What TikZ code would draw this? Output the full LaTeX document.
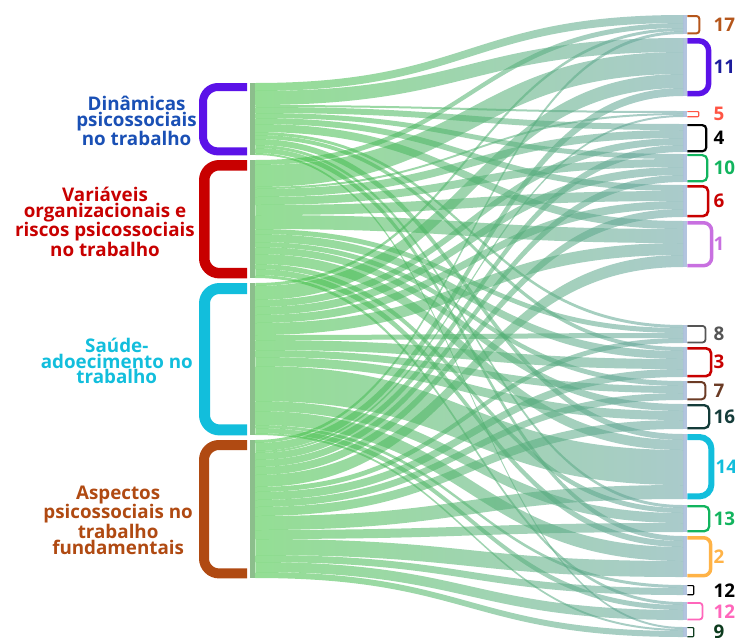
\documentclass[tikz,border=0pt]{standalone}
\usepackage{fontspec}
\setmainfont{Open Sans}
\usetikzlibrary{calc}
\definecolor{bandL}{RGB}{60,195,60}
\definecolor{bandR}{RGB}{100,160,160}
\definecolor{lbarc}{RGB}{140,190,140}
\definecolor{rbarc}{RGB}{178,196,222}
\definecolor{cPur}{HTML}{5B12E8}
\definecolor{cNavy}{HTML}{1C1C9C}
\definecolor{cBlueT}{HTML}{1A50B5}
\definecolor{cRed}{HTML}{C80000}
\definecolor{cCyan}{HTML}{12BEDC}
\definecolor{cBrown}{HTML}{B04A12}
\definecolor{cOrg}{HTML}{B5561B}
\definecolor{cSalmon}{HTML}{FF5544}
\definecolor{cGreen}{HTML}{12B45E}
\definecolor{cViolet}{HTML}{C870E0}
\definecolor{cGray}{HTML}{555555}
\definecolor{cDBrown}{HTML}{6B3B25}
\definecolor{cDTeal}{HTML}{143C3A}
\definecolor{cYel}{HTML}{FFB347}
\definecolor{cPink}{HTML}{FF66BB}
\definecolor{cDGreen}{HTML}{0D3B1E}

\newcommand\sflow[3]{%
  \edef\fa{\csname lo#1\endcsname}%
  \edef\fb{\csname ro#2\endcsname}%
  \pgfmathsetmacro\faa{\fa+#3}%
  \pgfmathsetmacro\fbb{\fb+#3}%
  \expandafter\xdef\csname lo#1\endcsname{\faa}%
  \expandafter\xdef\csname ro#2\endcsname{\fbb}%
  \path ([yshift=-\fa pt]L#1.north east) coordinate (a0)
        ([yshift=-\faa pt]L#1.north east) coordinate (a1)
        ([yshift=-\fb pt]R#2.north west) coordinate (b0)
        ([yshift=-\fbb pt]R#2.north west) coordinate (b1);
  \path[band] (a0) .. controls (mid |- a0) and (mid |- b0) .. (b0) -- (b1)
     .. controls (mid |- b1) and (mid |- a1) .. (a1) -- cycle;
}
% name, top, height, bracket colour, line width, outer x, radius, label, label colour
\newcommand\rightnode[9]{%
  \node[rbar, minimum height=#3pt] (R#1) at (683,#2) {};
  \expandafter\gdef\csname ro#1\endcsname{0}%
  \pgfmathsetmacro\myhw{#5/2}\pgfmathsetmacro\mydx{#6-687-#5/2}%
  \draw[#4, line width=#5pt, rounded corners=#7pt] ([yshift=-\myhw pt]R#1.north east) -- ++(\mydx,0) |- ([yshift=\myhw pt]R#1.south east);
  \node[lab, text=#9] (T#1) at ([xshift=\labx pt]R#1.east) {#8};
}
\newcommand\labx{26}
% name, top, height, colour, line width
\newcommand\leftnode[5]{%
  \node[lbar, minimum height=#3pt] (L#1) at (250,#2) {};
  \expandafter\gdef\csname lo#1\endcsname{0}%
  \pgfmathsetmacro\myhw{#5/2}\pgfmathsetmacro\mydx{48-#5/2}%
  \draw[#4, line width=#5pt, rounded corners=15pt] ([xshift=-3pt,yshift=-\myhw pt]L#1.north west) -- ++(-\mydx,0) |- ([xshift=-3pt,yshift=\myhw pt]L#1.south west);
}

\begin{document}
\begin{tikzpicture}[x=1pt,y=-1pt,
  font=\bfseries\fontsize{18.8}{15.6}\selectfont,
  band/.style={left color=bandL, right color=bandR, fill opacity=0.55},
  lbar/.style={rectangle, inner sep=0pt, minimum width=5pt, fill=lbarc, anchor=north west},
  rbar/.style={rectangle, inner sep=0pt, minimum width=4pt, fill=rbarc, anchor=north west},
  lab/.style={anchor=west, inner sep=0pt},
  llab/.style={anchor=east, align=center, inner sep=0pt}]
\useasboundingbox (0,0) rectangle (735,637);
\coordinate (mid) at (469,0);

\leftnode{D}{83}{72}{cPur}{8}
\leftnode{V}{160}{118}{cRed}{10.5}
\leftnode{S}{283}{152}{cCyan}{11}
\leftnode{A}{440}{138}{cBrown}{10}

\rightnode{17}{15}{19}{cOrg}{2}{700}{3}{17}{cOrg}
\rightnode{11}{38}{58}{cPur}{5.5}{711}{10}{11}{cNavy}
\rightnode{5}{111}{6}{cSalmon}{1.2}{699}{1}{5}{cSalmon}
\rightnode{4}{124}{28}{black}{2.2}{707}{4}{4}{black}
\rightnode{10}{154}{28}{cGreen}{2.2}{708}{5}{10}{cGreen}
\rightnode{6}{185}{32}{cRed}{2.6}{709}{5}{6}{cRed}
\rightnode{1}{221}{46}{cViolet}{3.5}{713}{8}{1}{cViolet}
\rightnode{8}{325}{18}{cGray}{1.8}{706}{3}{8}{cGray}
\rightnode{3}{347}{30}{cRed}{2.6}{712}{5}{3}{cRed}
\rightnode{7}{381}{19}{cDBrown}{2}{706}{4}{7}{cDBrown}
\rightnode{16}{404}{25}{cDTeal}{2.3}{710}{5}{16}{cDTeal}
\renewcommand\labx{28}
\rightnode{14}{434}{65}{cCyan}{6}{714}{12}{14}{cCyan}
\renewcommand\labx{26}
\rightnode{13}{505}{27}{cGreen}{2.3}{710}{5}{13}{cGreen}
\rightnode{2}{536}{41}{cYel}{3.5}{712}{7}{2}{cYel}
\rightnode{12b}{585}{10}{black}{1.2}{694}{1}{12}{black}
\rightnode{12p}{602}{18}{cPink}{1.8}{703}{3}{12}{cPink}
\rightnode{9}{627}{10}{cDGreen}{1.2}{694}{1}{9}{cDGreen}

% flows: Dinamicas
\sflow{D}{17}{8}\sflow{D}{11}{14}\sflow{D}{5}{2}\sflow{D}{4}{6}\sflow{D}{10}{5}
\sflow{D}{6}{6}\sflow{D}{1}{8}\sflow{D}{8}{3}\sflow{D}{3}{4}\sflow{D}{14}{6}
\sflow{D}{13}{3}\sflow{D}{2}{5}\sflow{D}{9}{2}
% Variaveis
\sflow{V}{17}{5}\sflow{V}{11}{22}\sflow{V}{5}{2}\sflow{V}{4}{8}\sflow{V}{10}{8}
\sflow{V}{6}{10}\sflow{V}{1}{14}\sflow{V}{8}{5}\sflow{V}{3}{8}\sflow{V}{7}{5}
\sflow{V}{16}{7}\sflow{V}{14}{10}\sflow{V}{13}{5}\sflow{V}{2}{6}\sflow{V}{12p}{3}
% Saude
\sflow{S}{17}{3}\sflow{S}{11}{14}\sflow{S}{4}{7}\sflow{S}{10}{8}\sflow{S}{6}{8}
\sflow{S}{1}{12}\sflow{S}{8}{5}\sflow{S}{3}{10}\sflow{S}{7}{7}\sflow{S}{16}{9}
\sflow{S}{14}{35}\sflow{S}{13}{10}\sflow{S}{2}{14}\sflow{S}{12b}{3}\sflow{S}{12p}{5}
\sflow{S}{9}{2}
% Aspectos
\sflow{A}{17}{3}\sflow{A}{11}{8}\sflow{A}{5}{2}\sflow{A}{4}{7}\sflow{A}{10}{7}
\sflow{A}{6}{8}\sflow{A}{1}{12}\sflow{A}{8}{5}\sflow{A}{3}{8}\sflow{A}{7}{7}
\sflow{A}{16}{9}\sflow{A}{14}{14}\sflow{A}{13}{9}\sflow{A}{2}{16}\sflow{A}{12b}{7}
\sflow{A}{12p}{10}\sflow{A}{9}{6}

\node[llab, text=cBlueT] (tD) at (197,121) {Dinâmicas\\psicossociais\\no trabalho};
\node[llab, text=cRed] (tV) at (195,222) {Variáveis\\organizacionais e\\riscos psicossociais\\no trabalho};
\node[llab, text=cCyan] (tS) at (193,361) {Saúde-\\adoecimento no\\trabalho};
\node[llab, text=cBrown] (tA) at (193,520) {Aspectos\\psicossociais no\\trabalho\\fundamentais};
\end{tikzpicture}
\end{document}
